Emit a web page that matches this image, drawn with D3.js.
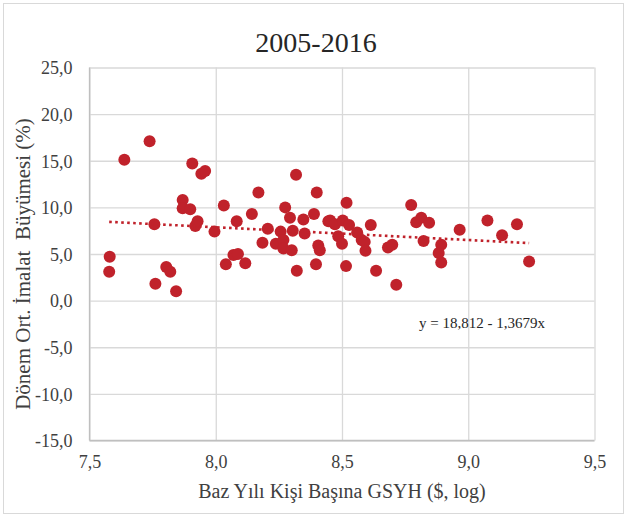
<!DOCTYPE html>
<html>
<head>
<meta charset="utf-8">
<script src="https://cdn.jsdelivr.net/npm/d3@7"></script>
<style>
  body { margin: 0; background: #fff; }
  svg text { font-family: "Liberation Serif", "DejaVu Serif", serif; fill: #262626; }
</style>
</head>
<body>
<script>
var width = 627,
    height = 517;

// per-capita GDP (log) of the base year
var gdpLog = [
  7.578, 7.580, 7.638, 7.738, 7.757, 7.761, 7.804, 7.820, 7.843, 7.869,
  7.869, 7.899, 7.907, 7.919, 7.928, 7.943, 7.958, 7.995, 8.032, 8.040,
  8.070, 8.088, 8.083, 8.117, 8.143, 8.169, 8.185, 8.206, 8.238, 8.257,
  8.268, 8.268, 8.275, 8.294, 8.301, 8.305, 8.318, 8.321, 8.347, 8.352,
  8.389, 8.397, 8.400, 8.406, 8.412, 8.446, 8.453, 8.472, 8.485, 8.500,
  8.503, 8.518, 8.516, 8.528, 8.560, 8.578, 8.590, 8.593, 8.614, 8.635,
  8.682, 8.699, 8.715, 8.774, 8.794, 8.814, 8.845, 8.823, 8.893, 8.883,
  8.893, 8.966, 9.076, 9.134, 9.193, 9.241
];

// average manufacturing growth over the period (%)
var growth = [
  3.1, 4.7, 15.1, 17.1, 8.2, 1.8, 3.6, 3.1, 1.0, 10.8,
  9.9, 9.8, 14.7, 8.0, 8.5, 13.6, 13.9, 7.4, 10.2, 3.9,
  4.9, 5.0, 8.5, 4.0, 9.3, 11.6, 6.2, 7.7, 6.1, 7.4,
  6.5, 5.6, 10.0, 8.9, 5.4, 7.5, 13.5, 3.2, 8.7, 7.2,
  9.3, 3.9, 11.6, 5.9, 5.4, 8.5, 8.6, 8.2, 6.9, 6.1,
  8.6, 10.5, 3.7, 8.1, 7.3, 6.5, 6.3, 5.35, 8.1, 3.2,
  5.7, 6.0, 1.7, 10.25, 8.4, 8.9, 8.35, 6.4, 6.0, 5.1,
  4.1, 7.6, 8.6, 7.0, 8.2, 4.2
];

var xTicks = [7.5, 8.0, 8.5, 9.0, 9.5];
var yTicks = [-15, -10, -5, 0, 5, 10, 15, 20, 25];

// trend line y = a - b x
var trendA = 18.812,
    trendB = 1.3679;

var points = gdpLog.map(function(d, i) { return {x: d, y: growth[i]}; });

var locale = d3.formatLocale({decimal: ",", thousands: ".", grouping: [3], currency: ["", "$"], minus: "-"});
var fmt = locale.format(".1f");

var x = d3.scaleLinear().domain([7.5, 9.5]).range([89.5, 594.5]);
var y = d3.scaleLinear().domain([-15, 25]).range([440.5, 67.5]);

var serif = '"Liberation Serif", "DejaVu Serif", serif';

var svg = d3.select("body").append("svg")
    .attr("width", width)
    .attr("height", height);

// outer frame of the chart
svg.append("rect")
    .attr("x", 3.5)
    .attr("y", 3.5)
    .attr("width", width - 7)
    .attr("height", height - 7)
    .attr("fill", "none")
    .attr("stroke", "#d9d9d9");

svg.append("text")
    .attr("x", 316)
    .attr("y", 52)
    .attr("text-anchor", "middle")
    .style("font-size", "28px")
    .text("2005-2016");

// horizontal grid + labels
var yAxis = svg.append("g")
    .attr("transform", "translate(" + x.range()[0] + ",0)")
    .call(d3.axisLeft(y).tickValues(yTicks).tickFormat(fmt)
        .tickSize(-(x.range()[1] - x.range()[0])).tickPadding(17));
yAxis.attr("font-family", null).attr("font-size", null);
yAxis.select(".domain").remove();
yAxis.selectAll("line").attr("stroke", "#d9d9d9").attr("stroke-width", 1.3);
yAxis.selectAll("text")
    .style("font-family", serif)
    .style("font-size", "18px")
    .style("fill", "#404040")
    .attr("dy", "0.35em");

// vertical grid + labels
var xAxis = svg.append("g")
    .attr("transform", "translate(0," + y.range()[0] + ")")
    .call(d3.axisBottom(x).tickValues(xTicks).tickFormat(fmt)
        .tickSize(-(y.range()[0] - y.range()[1])).tickPadding(17));
xAxis.attr("font-family", null).attr("font-size", null);
xAxis.select(".domain").remove();
xAxis.selectAll("line").attr("stroke", "#d9d9d9").attr("stroke-width", 1.3);
xAxis.selectAll("text")
    .style("font-family", serif)
    .style("font-size", "18px")
    .style("fill", "#404040")
    .attr("dy", "0.6em");

// axis lines
svg.append("line")
    .attr("x1", x(7.5)).attr("x2", x(7.5))
    .attr("y1", y(25)).attr("y2", y(-15))
    .attr("stroke", "#bfbfbf").attr("stroke-width", 1.3);
svg.append("line")
    .attr("x1", x(7.5)).attr("x2", x(9.5))
    .attr("y1", y(-15)).attr("y2", y(-15))
    .attr("stroke", "#bfbfbf").attr("stroke-width", 1.3);

// points
svg.append("g")
    .selectAll("circle")
    .data(points)
    .enter()
    .append("circle")
    .attr("cx", function(d) { return x(d.x); })
    .attr("cy", function(d) { return y(d.y); })
    .attr("r", 6)
    .attr("fill", "#c0222b");

// dotted trend line over the data range
var xr = d3.extent(gdpLog);
svg.append("line")
    .attr("x1", x(xr[0])).attr("y1", y(trendA - trendB * xr[0]))
    .attr("x2", x(xr[1])).attr("y2", y(trendA - trendB * xr[1]))
    .attr("stroke", "#c0222b")
    .attr("stroke-width", 2.6)
    .attr("stroke-dasharray", "2.6,3.4");

svg.append("text")
    .attr("x", 419)
    .attr("y", 328)
    .style("font-size", "15px")
    .text("y = 18,812 - 1,3679x");

svg.append("text")
    .attr("x", 342)
    .attr("y", 498)
    .attr("text-anchor", "middle")
    .style("font-size", "20px")
    .style("fill", "#404040")
    .text("Baz Yılı Kişi Başına GSYH ($, log)");

svg.append("text")
    .attr("transform", "translate(30,264) rotate(-90)")
    .attr("text-anchor", "middle")
    .style("font-size", "21px")
    .style("fill", "#404040")
    .style("white-space", "pre")
    .attr("xml:space", "preserve")
    .text("Dönem Ort. İmalat  Büyümesi (%)");
</script>
</body>
</html>
